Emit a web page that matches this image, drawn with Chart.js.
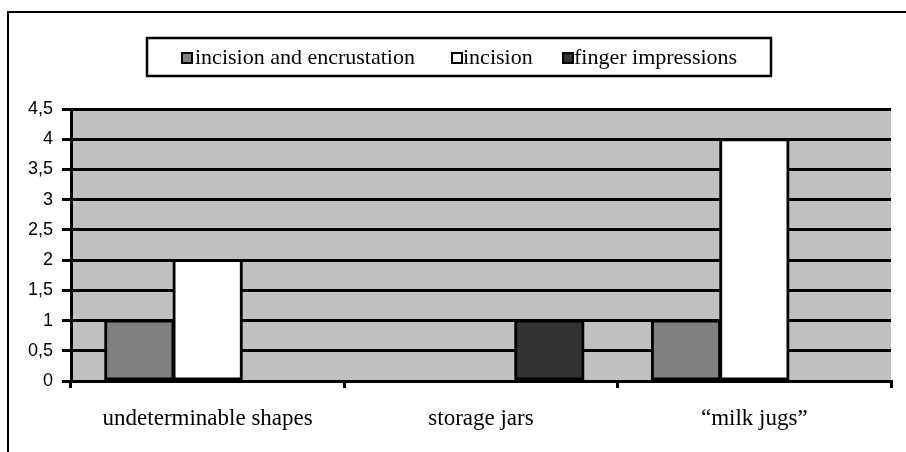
<!DOCTYPE html>
<html><head><meta charset="utf-8">
<script src="https://cdn.jsdelivr.net/npm/chart.js@4/dist/chart.umd.min.js"></script>
<style>html,body{margin:0;padding:0;background:#fff;}#wrap{width:906px;height:452px;}</style>
</head><body><div id="wrap"><canvas id="c" width="906" height="452"></canvas></div>
<script>
const categories = ["undeterminable shapes", "storage jars", "\u201cmilk jugs\u201d"];
const seriesNames = ["incision and encrustation", "incision", "finger impressions"];
const incisionEncrustation = [1, 0, 1];
const incision = [2, 0, 4];
const fingerImpressions = [0, 1, 0];
const yTicks = [0, 0.5, 1, 1.5, 2, 2.5, 3, 3.5, 4, 4.5];
const colors = ["#808080", "#ffffff", "#333333"];

const framePlugin = {
  id: 'frame',
  beforeDraw(chart) {
    const ctx = chart.ctx, a = chart.chartArea;
    ctx.save();
    ctx.fillStyle = '#fff';
    ctx.fillRect(0, 0, chart.width, chart.height);
    ctx.strokeStyle = '#000'; ctx.lineWidth = 2;
    ctx.strokeRect(8, 12, 1000, 1000);
    ctx.fillStyle = '#c0c0c0';
    ctx.fillRect(a.left, a.top, a.right - a.left, a.bottom - a.top);
    ctx.restore();
  },
  afterDraw(chart) {
    const ctx = chart.ctx;
    ctx.save();
    const bx = 147, by = 38, bw = 624, bh = 38;
    ctx.fillStyle = '#fff';
    ctx.fillRect(bx, by, bw, bh);
    ctx.strokeStyle = '#000'; ctx.lineWidth = 2.5;
    ctx.strokeRect(bx, by, bw, bh);
    ctx.font = '22px "Liberation Serif", "Times New Roman", serif';
    ctx.textBaseline = 'middle';
    const items = [{mx: 182, tx: 195, w: 220}, {mx: 452, tx: 463, w: 73}, {mx: 563, tx: 574, w: 172}];
    chart.data.datasets.forEach((ds, i) => {
      const it = items[i];
      ctx.fillStyle = ds.backgroundColor;
      ctx.fillRect(it.mx, 53, 10, 10);
      ctx.lineWidth = 2;
      ctx.strokeRect(it.mx, 53, 10, 10);
      ctx.fillStyle = '#000';
      ctx.fillText(ds.label, it.tx, 58, it.w);
    });
    ctx.restore();
  }
};

new Chart(document.getElementById('c'), {
  type: 'bar',
  data: {
    labels: categories,
    datasets: [
      {label: seriesNames[0], data: incisionEncrustation, backgroundColor: colors[0]},
      {label: seriesNames[1], data: incision, backgroundColor: colors[1]},
      {label: seriesNames[2], data: fingerImpressions, backgroundColor: colors[2]}
    ].map(d => Object.assign(d, {borderColor: '#000', borderWidth: 3, borderSkipped: false, inflateAmount: 1, categoryPercentage: 0.75, barPercentage: 1}))
  },
  options: {
    responsive: false,
    animation: false,
    events: [],
    layout: {padding: {top: 109, left: 0, right: 15, bottom: 0}},
    plugins: {legend: {display: false}, tooltip: {enabled: false}},
    scales: {
      x: {
        grid: {display: true, drawOnChartArea: false, color: '#000', lineWidth: 3, tickLength: 7, offset: true},
        border: {color: '#000', width: 3},
        afterFit(axis) { axis.height = 71; },
        ticks: {color: '#000', font: {family: '"Liberation Serif", "Times New Roman", serif', size: 23}, padding: 17, maxRotation: 0}
      },
      y: {
        min: 0, max: 4.5,
        afterBuildTicks(axis) { axis.ticks = yTicks.map(v => ({value: v})); },
        grid: {color: '#000', lineWidth: 3, tickLength: 9},
        border: {color: '#000', width: 3},
        afterFit(axis) { axis.width = 71; },
        ticks: {color: '#000', font: {family: '"Liberation Sans", Arial, sans-serif', size: 18}, padding: 9,
          callback: v => String(v).replace('.', ',')}
      }
    }
  },
  plugins: [framePlugin]
});
</script></body></html>
